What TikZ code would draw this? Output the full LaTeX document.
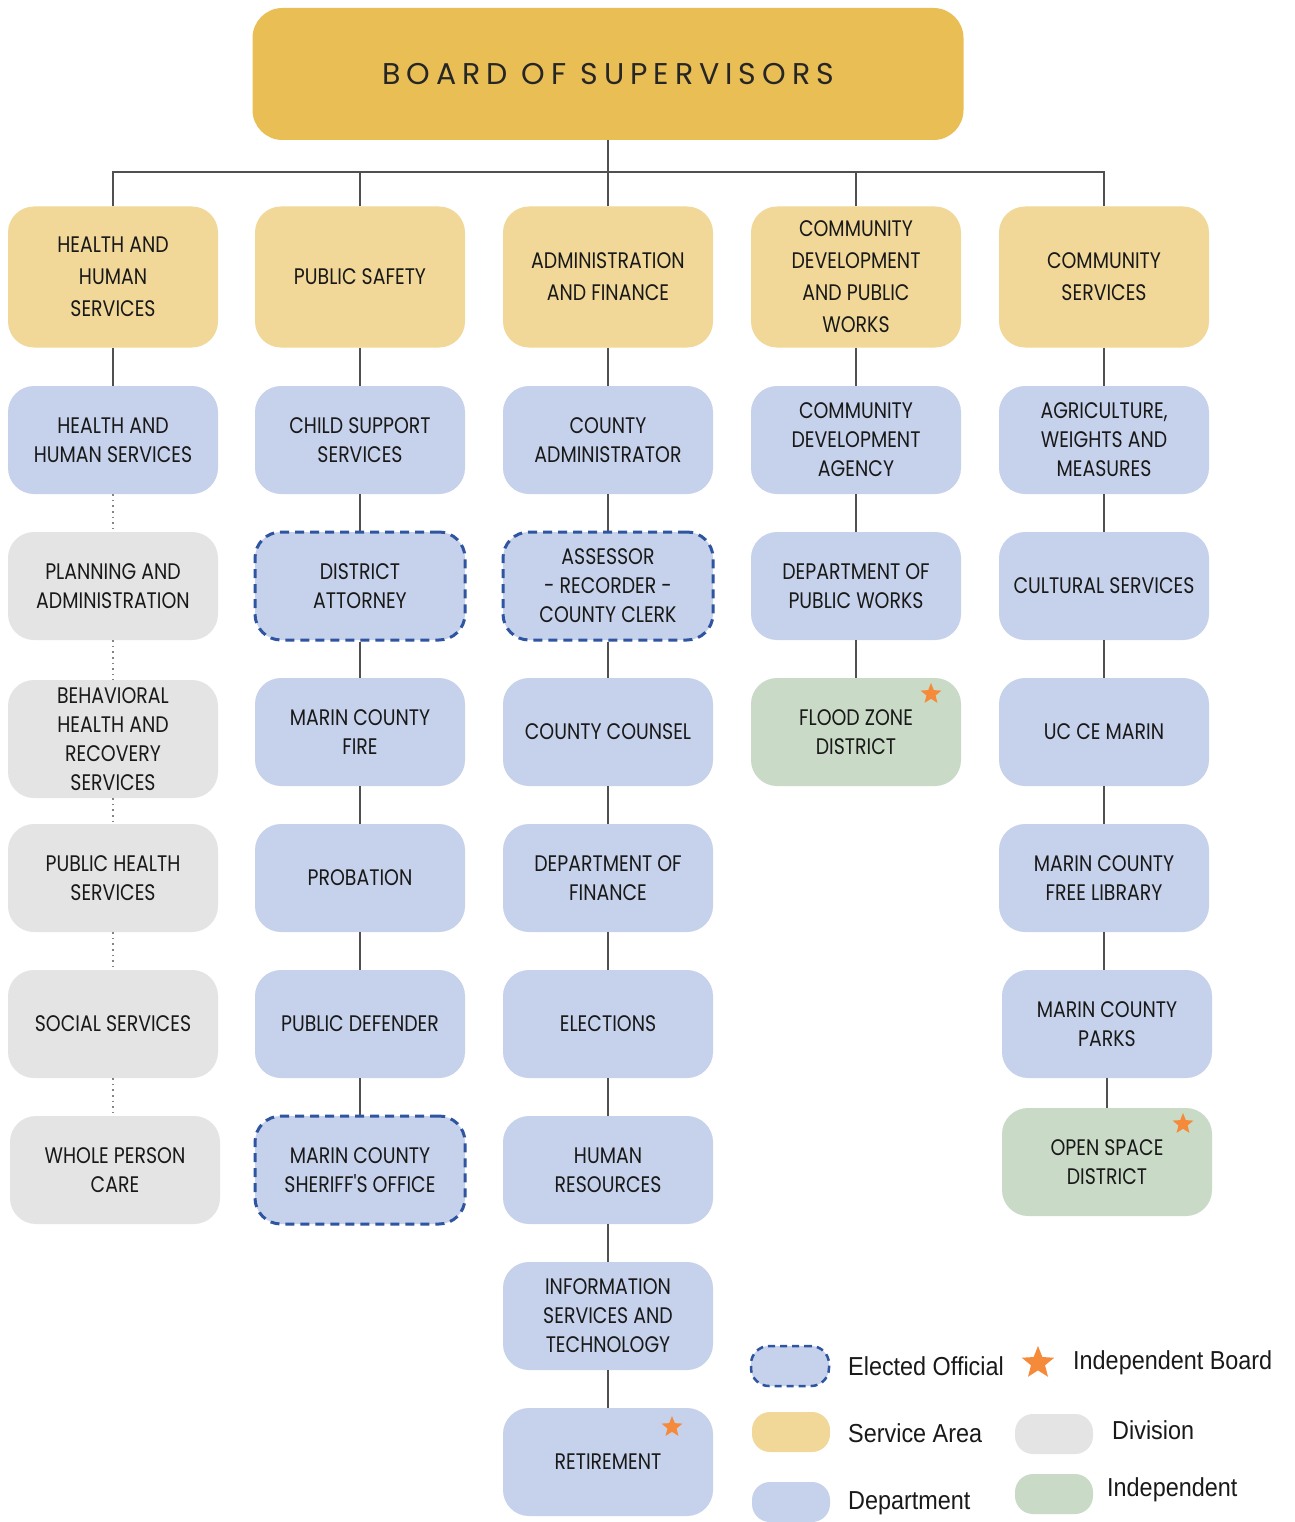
\documentclass[tikz,border=0pt]{standalone}
\usepackage{fontspec}
\usetikzlibrary{shapes.geometric}
\newfontfamily\boxfont[FakeStretch=0.84]{Poppins}
\newfontfamily\boardfont[LetterSpace=20]{Poppins}
\newfontfamily\legfont[FakeStretch=0.9]{Liberation Sans}
\definecolor{boardc}{HTML}{E8BE55}
\definecolor{areac}{HTML}{F1D898}
\definecolor{deptc}{HTML}{C6D1EB}
\definecolor{divc}{HTML}{E4E4E4}
\definecolor{indc}{HTML}{C9DBC7}
\definecolor{dashc}{HTML}{2F55A0}
\definecolor{linec}{HTML}{505050}
\definecolor{starc}{HTML}{F58A3A}
\tikzset{
  base/.style={rounded corners=26pt, minimum width=210pt, align=center, inner sep=2pt,
    font=\boxfont\fontsize{22.5}{29}\selectfont, text=black!90},
  area/.style={base, fill=areac, minimum height=141pt, font=\boxfont\fontsize{22.5}{32}\selectfont},
  dept/.style={base, fill=deptc, minimum height=108pt},
  divn/.style={base, fill=divc, minimum height=108pt},
  indep/.style={base, fill=indc, minimum height=108pt},
  elected/.style={dept, draw=dashc, line width=3pt, dash pattern=on 9pt off 6pt},
  conn/.style={draw=linec, line width=1.8pt},
  dotconn/.style={draw=linec!70, line width=1.6pt, dash pattern=on 1.6pt off 4pt},
  starmark/.style={star, star points=5, star point ratio=2.3, fill=starc, inner sep=0pt, minimum size=22pt},
  legbox/.style={rounded corners=18pt, minimum width=78pt, minimum height=40pt, inner sep=0pt},
  legtext/.style={anchor=west, font=\legfont\fontsize{26}{28}\selectfont, text=black!90, inner sep=0pt}
}
\begin{document}
\begin{tikzpicture}[x=1pt,y=-1pt]
\useasboundingbox[fill=white] (0,0) rectangle (1294,1522);
% board
\node[fill=boardc, rounded corners=30pt, minimum width=711pt, minimum height=132pt,
  font=\boardfont\fontsize{30}{32}\selectfont, text=black!85] (board) at (608,74) {BOARD OF SUPERVISORS};
% service areas
\node[area] (a1) at (113,277) {HEALTH AND\\HUMAN\\SERVICES};
\node[area] (a2) at (360,277) {PUBLIC SAFETY};
\node[area] (a3) at (608,277) {ADMINISTRATION\\AND FINANCE};
\node[area] (a4) at (856,277) {COMMUNITY\\DEVELOPMENT\\AND PUBLIC\\WORKS};
\node[area] (a5) at (1104,277) {COMMUNITY\\SERVICES};
% column 1
\node[dept] (c1r1) at (113,440) {HEALTH AND\\HUMAN SERVICES};
\node[divn] (c1r2) at (113,586) {PLANNING AND\\ADMINISTRATION};
\node[divn, minimum height=118pt] (c1r3) at (113,739) {BEHAVIORAL\\HEALTH AND\\RECOVERY\\SERVICES};
\node[divn] (c1r4) at (113,878) {PUBLIC HEALTH\\SERVICES};
\node[divn] (c1r5) at (113,1024) {SOCIAL SERVICES};
\node[divn] (c1r6) at (115,1170) {WHOLE PERSON\\CARE};
% column 2
\node[dept] (c2r1) at (360,440) {CHILD SUPPORT\\SERVICES};
\node[elected] (c2r2) at (360,586) {DISTRICT\\ATTORNEY};
\node[dept] (c2r3) at (360,732) {MARIN COUNTY\\FIRE};
\node[dept] (c2r4) at (360,878) {PROBATION};
\node[dept] (c2r5) at (360,1024) {PUBLIC DEFENDER};
\node[elected] (c2r6) at (360,1170) {MARIN COUNTY\\SHERIFF'S OFFICE};
% column 3
\node[dept] (c3r1) at (608,440) {COUNTY\\ADMINISTRATOR};
\node[elected] (c3r2) at (608,586) {ASSESSOR\\- RECORDER -\\COUNTY CLERK};
\node[dept] (c3r3) at (608,732) {COUNTY COUNSEL};
\node[dept] (c3r4) at (608,878) {DEPARTMENT OF\\FINANCE};
\node[dept] (c3r5) at (608,1024) {ELECTIONS};
\node[dept] (c3r6) at (608,1170) {HUMAN\\RESOURCES};
\node[dept] (c3r7) at (608,1316) {INFORMATION\\SERVICES AND\\TECHNOLOGY};
\node[dept] (c3r8) at (608,1462) {RETIREMENT};
% column 4
\node[dept] (c4r1) at (856,440) {COMMUNITY\\DEVELOPMENT\\AGENCY};
\node[dept] (c4r2) at (856,586) {DEPARTMENT OF\\PUBLIC WORKS};
\node[indep] (c4r3) at (856,732) {FLOOD ZONE\\DISTRICT};
% column 5
\node[dept] (c5r1) at (1104,440) {AGRICULTURE,\\WEIGHTS AND\\MEASURES};
\node[dept] (c5r2) at (1104,586) {CULTURAL SERVICES};
\node[dept] (c5r3) at (1104,732) {UC CE MARIN};
\node[dept] (c5r4) at (1104,878) {MARIN COUNTY\\FREE LIBRARY};
\node[dept] (c5r5) at (1107,1024) {MARIN COUNTY\\PARKS};
\node[indep] (c5r6) at (1107,1162) {OPEN SPACE\\DISTRICT};
% stars
\node[starmark] (s1) at (931,694) {};
\node[starmark] (s2) at (1183,1124) {};
\node[starmark] (s3) at (672,1427) {};
% connectors
\coordinate (bus) at (608,172);
\draw[conn] (board.south) -- (bus);
\foreach \i in {1,...,5} { \draw[conn] (a\i.north) |- (bus); }
\draw[conn] (a1) -- (c1r1);
\draw[dotconn] (c1r1) -- (c1r2);
\draw[dotconn] (c1r2) -- (c1r3);
\draw[dotconn] (c1r3) -- (c1r4);
\draw[dotconn] (c1r4) -- (c1r5);
\draw[dotconn] (c1r5.south) -- (c1r5.south |- c1r6.north);
\draw[conn] (a2) -- (c2r1);
\foreach \a/\b in {1/2,2/3,3/4,4/5,5/6} { \draw[conn] (c2r\a) -- (c2r\b); }
\draw[conn] (a3) -- (c3r1);
\foreach \a/\b in {1/2,2/3,3/4,4/5,5/6,6/7,7/8} { \draw[conn] (c3r\a) -- (c3r\b); }
\draw[conn] (a4) -- (c4r1);
\foreach \a/\b in {1/2,2/3} { \draw[conn] (c4r\a) -- (c4r\b); }
\draw[conn] (a5) -- (c5r1);
\foreach \a/\b in {1/2,2/3,3/4} { \draw[conn] (c5r\a) -- (c5r\b); }
\draw[conn] (c5r4.south) -- (c5r4.south |- c5r5.north);
\draw[conn] (c5r5.south) -- (c5r5.south |- c5r6.north);
% legend
\node[legbox, fill=deptc, draw=dashc, line width=2.5pt, dash pattern=on 7pt off 5pt] (le) at (790,1366) {};
\node[legtext] (let) at (848,1366) {Elected Official};
\node[starmark, minimum size=34pt] (ls) at (1038,1363) {};
\node[legtext] (lst) at (1073,1363) {Independent Board};
\node[legbox, fill=areac] (la) at (791,1432) {};
\node[legtext] (lat) at (848,1433) {Service Area};
\node[legbox, fill=divc] (ld) at (1054,1434) {};
\node[legtext] (ldt) at (1112,1430) {Division};
\node[legbox, fill=deptc] (lp) at (791,1502) {};
\node[legtext] (lpt) at (848,1503) {Department};
\node[legbox, fill=indc] (li) at (1054,1494) {};
\node[legtext] (lit) at (1107,1490) {Independent};
\end{tikzpicture}
\end{document}
